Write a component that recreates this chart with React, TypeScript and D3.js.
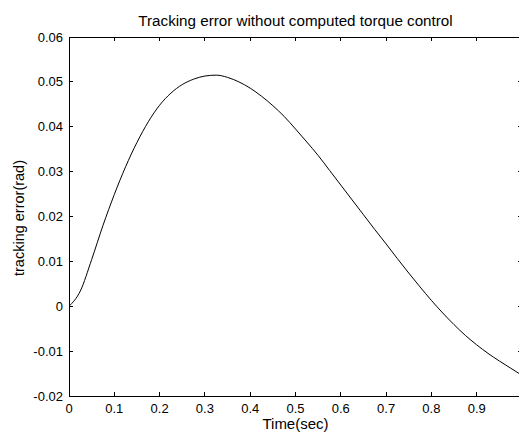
import React from "react";
import * as d3 from "d3";

const timeValues = [0, 0.025, 0.05, 0.075, 0.1, 0.125, 0.15, 0.175, 0.2, 0.225, 0.25, 0.275, 0.3, 0.325, 0.35, 0.375, 0.4, 0.425, 0.45, 0.475, 0.5, 0.525, 0.55, 0.575, 0.6, 0.625, 0.65, 0.675, 0.7, 0.725, 0.75, 0.775, 0.8, 0.825, 0.85, 0.875, 0.9, 0.925, 0.95, 0.975, 1.0];
const errorValues = [0, 0.0034, 0.0104, 0.018, 0.0249, 0.0311, 0.0365, 0.0411, 0.0448, 0.0475, 0.0494, 0.0506, 0.0513, 0.0515, 0.051, 0.05, 0.0486, 0.0468, 0.0447, 0.0423, 0.0395, 0.0366, 0.0336, 0.0303, 0.027, 0.0237, 0.0204, 0.0171, 0.0139, 0.0106, 0.0074, 0.0043, 0.0013, -0.0015, -0.0041, -0.0065, -0.0086, -0.0105, -0.0122, -0.0138, -0.0154];
const xTicks = [0, 0.1, 0.2, 0.3, 0.4, 0.5, 0.6, 0.7, 0.8, 0.9];
const xTickLabels = ["0", "0.1", "0.2", "0.3", "0.4", "0.5", "0.6", "0.7", "0.8", "0.9"];
const yTicks = [-0.02, -0.01, 0, 0.01, 0.02, 0.03, 0.04, 0.05, 0.06];
const yTickLabels = ["-0.02", "-0.01", "0", "0.01", "0.02", "0.03", "0.04", "0.05", "0.06"];
const titleText = "Tracking error without computed torque control";
const xLabel = "Time(sec)";
const yLabel = "tracking error(rad)";

export default function App() {
  const W = 519, H = 432;
  const left = 69, right = 522, top = 37, bottom = 396;
  const x = d3.scaleLinear().domain([0, 1]).range([left, right]);
  const y = d3.scaleLinear().domain([-0.02, 0.06]).range([bottom, top]);
  const pts = timeValues.map((t, i) => [t, errorValues[i]] as [number, number]);
  const line = d3.line<[number, number]>().x(d => x(d[0])).y(d => y(d[1])).curve(d3.curveMonotoneX);
  const font = "'Liberation Sans', Arial, sans-serif";
  return (
    <svg width={W} height={H} style={{ position: "absolute", left: 0, top: 0, background: "#fff" }}>
      <rect x={0} y={0} width={W} height={H} fill="#fff" />
      <defs>
        <clipPath id="pc"><rect x={left} y={top} width={right - left} height={bottom - top} /></clipPath>
      </defs>
      <path d={line(pts) || ""} fill="none" stroke="#000" strokeWidth={1} clipPath="url(#pc)" />
      <g stroke="#000" strokeWidth={1} shapeRendering="crispEdges">
        <line x1={left} x2={right} y1={top} y2={top} />
        <line x1={left} x2={right} y1={bottom} y2={bottom} />
        <line x1={left} x2={left} y1={top} y2={bottom} />
        <line x1={right} x2={right} y1={top} y2={bottom} />
        {xTicks.map(t => (
          <g key={"x" + t}>
            <line x1={x(t)} x2={x(t)} y1={bottom} y2={bottom - 4} />
            <line x1={x(t)} x2={x(t)} y1={top} y2={top + 4} />
          </g>
        ))}
        {yTicks.map(t => (
          <g key={"y" + t}>
            <line x1={left} x2={left + 4} y1={y(t)} y2={y(t)} />
            <line x1={right} x2={right - 4} y1={y(t)} y2={y(t)} />
          </g>
        ))}
      </g>
      <g fontFamily={font} fill="#000">
        {xTicks.map((t, i) => (
          <text key={"xl" + t} x={x(t)} y={412.5} fontSize={13} textAnchor="middle">{xTickLabels[i]}</text>
        ))}
        {yTicks.map((t, i) => (
          <text key={"yl" + t} x={left - 6} y={y(t) + 4.5} fontSize={13} textAnchor="end">{yTickLabels[i]}</text>
        ))}
        <text x={(left + right) / 2} y={26} fontSize={15.2} textAnchor="middle">{titleText}</text>
        <text x={(left + right) / 2} y={429} fontSize={15} textAnchor="middle">{xLabel}</text>
        <text transform={`translate(24,218) rotate(-90)`} fontSize={14.5} textAnchor="middle">{yLabel}</text>
      </g>
    </svg>
  );
}
